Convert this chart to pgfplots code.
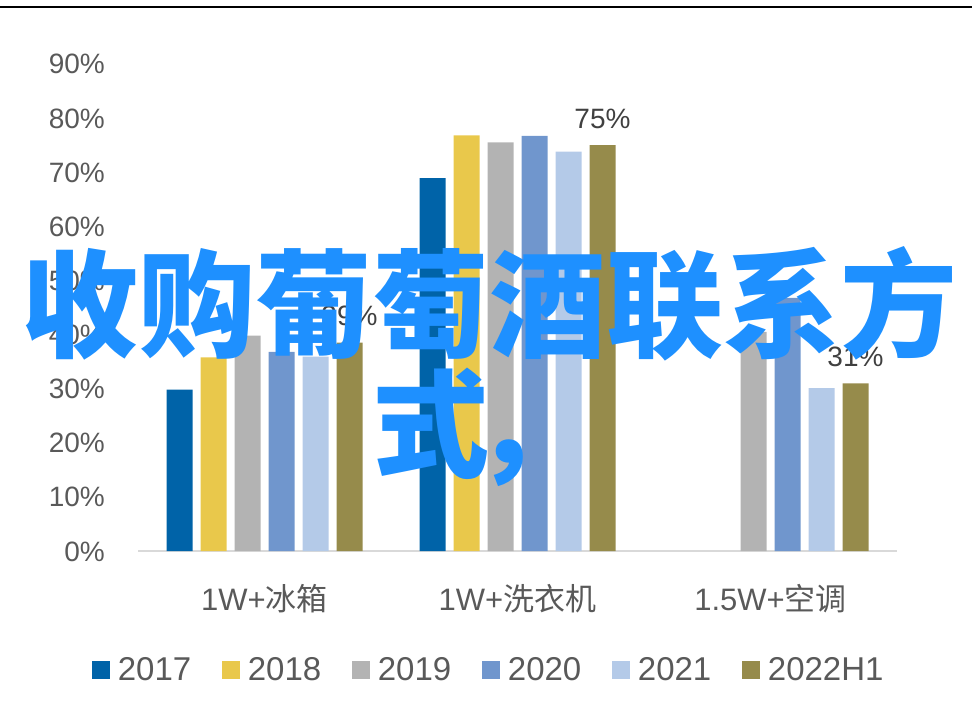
\documentclass[border=0pt]{standalone}
\usepackage{pgfplots}
\pgfplotsset{compat=1.18}
\usepackage{fontspec}
\setmainfont{Liberation Sans}
\newfontfamily\cjk{Noto Sans CJK SC}
\definecolor{cA}{RGB}{0,99,168}
\definecolor{cB}{RGB}{233,200,75}
\definecolor{cC}{RGB}{179,179,179}
\definecolor{cD}{RGB}{112,150,205}
\definecolor{cE}{RGB}{180,202,232}
\definecolor{cF}{RGB}{150,139,75}
\definecolor{tgray}{RGB}{89,89,89}
\definecolor{lgray}{RGB}{64,64,64}
\definecolor{axgray}{RGB}{217,217,217}
\definecolor{wm}{RGB}{30,144,255}
\pgfplotsset{sq/.style={legend image code/.code={\fill[##1,draw=none] (0pt,-8.8pt) rectangle (17.6pt,8.8pt);}}}
\begin{document}
\begin{tikzpicture}
\path[use as bounding box] (0pt,0pt) rectangle (976pt,707pt);
\draw[black, line width=2pt] (0pt,700pt) -- (972pt,700pt);
\begin{axis}[
  at={(138pt,156pt)}, anchor=south west,
  width=759pt, height=487pt, scale only axis,
  xmin=-0.5, xmax=2.5, ymin=0, ymax=90,
  enlargelimits=false,
  ybar=8pt, bar width=26pt,
  axis x line*=bottom, axis y line*=left,
  x axis line style={axgray, line width=1.5pt, -},
  y axis line style={draw=none},
  xtick={0,1,2},
  xticklabels={{1W+{\cjk 冰箱}},{1W+{\cjk 洗衣机}},{1.5W+{\cjk 空调}}},
  xtick style={draw=none},
  xticklabel style={anchor=base, yshift=-55pt, inner sep=0pt, font=\fontsize{31}{34}\selectfont, text=tgray},
  ytick={0,10,...,90},
  yticklabel={\pgfmathprintnumber{\tick}\%},
  /pgf/number format/assume math mode=true,
  yticklabel style={anchor=base east, xshift=-33pt, yshift=-10pt, inner sep=0pt, font=\fontsize{28}{30}\selectfont, text=tgray},
  ytick style={draw=none},
  legend columns=6,
  legend style={draw=none, fill=none, at={(0.461,-0.244)}, anchor=center,
    font=\fontsize{33}{36}\selectfont, text=tgray,
    nodes={inner sep=0pt},
    /tikz/every odd column/.append style={column sep=8pt},
    /tikz/every even column/.append style={column sep=31pt}},
  legend cell align=left,
]
\addplot[fill=cA, draw=none, sq] coordinates {(0,29.8) (1,68.9)};
\addplot[fill=cB, draw=none, sq] coordinates {(0,35.8) (1,76.8)};
\addplot[fill=cC, draw=none, sq] coordinates {(0,39.8) (1,75.5) (2,40.5)};
\addplot[fill=cD, draw=none, sq] coordinates {(0,36.8) (1,76.7) (2,46.8)};
\addplot[fill=cE, draw=none, sq] coordinates {(0,35.9) (1,73.8) (2,30.1)};
\addplot[fill=cF, draw=none, sq,
  point meta=explicit symbolic,
  nodes near coords={\pgfplotspointmeta},
  every node near coord/.append style={anchor=south, yshift=13pt, font=\fontsize{28}{30}\selectfont, text=lgray}
] coordinates {(0,38.5)[39\%] (1,75.0)[75\%] (2,31.0)[31\%]};
\legend{2017,2018,2019,2020,2021,2022H1}
\end{axis}
\node[anchor=north, align=center, inner sep=0pt, text=wm,
  font=\cjk\bfseries\fontsize{117}{120}\selectfont] at (489pt,461pt) {收购葡萄酒联系方\\式\kern-0.13em，\kern0.13em};
\end{tikzpicture}
\end{document}
